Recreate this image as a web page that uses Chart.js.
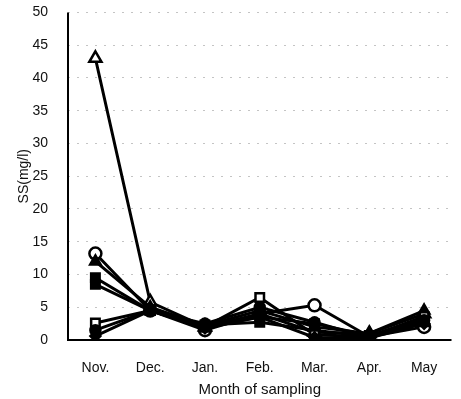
<!DOCTYPE html>
<html>
<head>
<meta charset="utf-8">
<script src="https://cdn.jsdelivr.net/npm/chart.js@4/dist/chart.umd.min.js"></script>
<style>
  html, body { margin: 0; padding: 0; background: #fff; }
  #wrap { width: 461px; height: 399px; }
</style>
</head>
<body>
<div id="wrap"><canvas id="container" width="461" height="399"></canvas></div>
<script>
var months = ['Nov.', 'Dec.', 'Jan.', 'Feb.', 'Mar.', 'Apr.', 'May'];
var yTicks = [0, 5, 10, 15, 20, 25, 30, 35, 40, 45, 50];

var openTriangle = [43, 5.8, 2, 4, 1.2, 1, 4];
var openCircle = [13.2, 4.5, 1.5, 4, 5.3, 0.5, 2];
var filledTriangle = [12, 5, 2.2, 4.5, 2, 1, 4.5];
var filledSquareA = [9.5, 4.5, 2, 3.5, 2.5, 0.7, 3.2];
var filledSquareB = [8.5, 4.5, 2.3, 2.7, 1.5, 0.5, 2.8];
var openSquare = [2.6, 4.5, 2, 6.5, 0.8, 0.5, 3.6];
var filledCircle = [1.5, 4.5, 2.5, 5, 2.7, 0.3, 3];
var filledDiamond = [0.6, 4.5, 1.8, 3.5, 0.4, 0.3, 2.5];

function series(data, style, filled, radius) {
    return {
        data: data,
        borderColor: '#000',
        borderWidth: 3,
        pointStyle: style,
        pointRadius: radius || 6,
        pointBorderWidth: 2.5,
        pointBorderColor: '#000',
        pointBackgroundColor: filled ? '#000' : '#fff',
        tension: 0
    };
}

// draw the two solid axis lines over the grid
var axisLines = {
    id: 'axisLines',
    afterDatasetsDraw: function(chart) {
        var a = chart.chartArea, ctx = chart.ctx;
        ctx.save();
        ctx.strokeStyle = '#000';
        ctx.lineWidth = 2;
        ctx.beginPath();
        ctx.moveTo(a.left, a.top);
        ctx.lineTo(a.left, a.bottom);
        ctx.lineTo(a.right, a.bottom);
        ctx.stroke();
        ctx.restore();
    }
};

new Chart(document.getElementById('container'), {
    type: 'line',
    data: {
        labels: months,
        datasets: [
            series(filledDiamond, 'rectRot', true, 5),
            series(filledCircle, 'circle', true, 5),
            series(openSquare, 'rect', false),
            series(filledSquareB, 'rect', true),
            series(filledSquareA, 'rect', true),
            series(filledTriangle, 'triangle', true),
            series(openCircle, 'circle', false),
            series(openTriangle, 'triangle', false, 7)
        ]
    },
    options: {
        responsive: false,
        animation: false,
        layout: { padding: { top: 1, right: 2, left: 16, bottom: 0 } },
        plugins: { legend: { display: false }, tooltip: { enabled: false } },
        scales: {
            x: {
                offset: true,
                afterFit: function(axis) { axis.height = 59; },
                grid: { display: false },
                border: { display: false },
                ticks: { color: '#111', font: { family: 'Liberation Sans', size: 14 }, padding: 12 },
                title: { display: true, text: 'Month of sampling', color: '#111',
                         font: { family: 'Liberation Sans', size: 15 }, padding: { top: 0, bottom: 0 } }
            },
            y: {
                min: 0,
                max: 50,
                afterFit: function(axis) { axis.width = 52; },
                afterBuildTicks: function(axis) {
                    axis.ticks = yTicks.map(function(v) { return { value: v }; });
                },
                // invisible tick marks keep the labels away from the axis
                grid: { color: '#c4c4c4', lineWidth: 1, tickLength: 16, tickColor: 'rgba(0,0,0,0)' },
                border: { display: false, dash: [2, 7] },
                ticks: { color: '#111', font: { family: 'Liberation Sans', size: 14 }, padding: 4 },
                title: { display: true, text: 'SS(mg/l)', color: '#111',
                         font: { family: 'Liberation Sans', size: 14 }, padding: 0 }
            }
        }
    },
    plugins: [axisLines]
});
</script>
</body>
</html>
